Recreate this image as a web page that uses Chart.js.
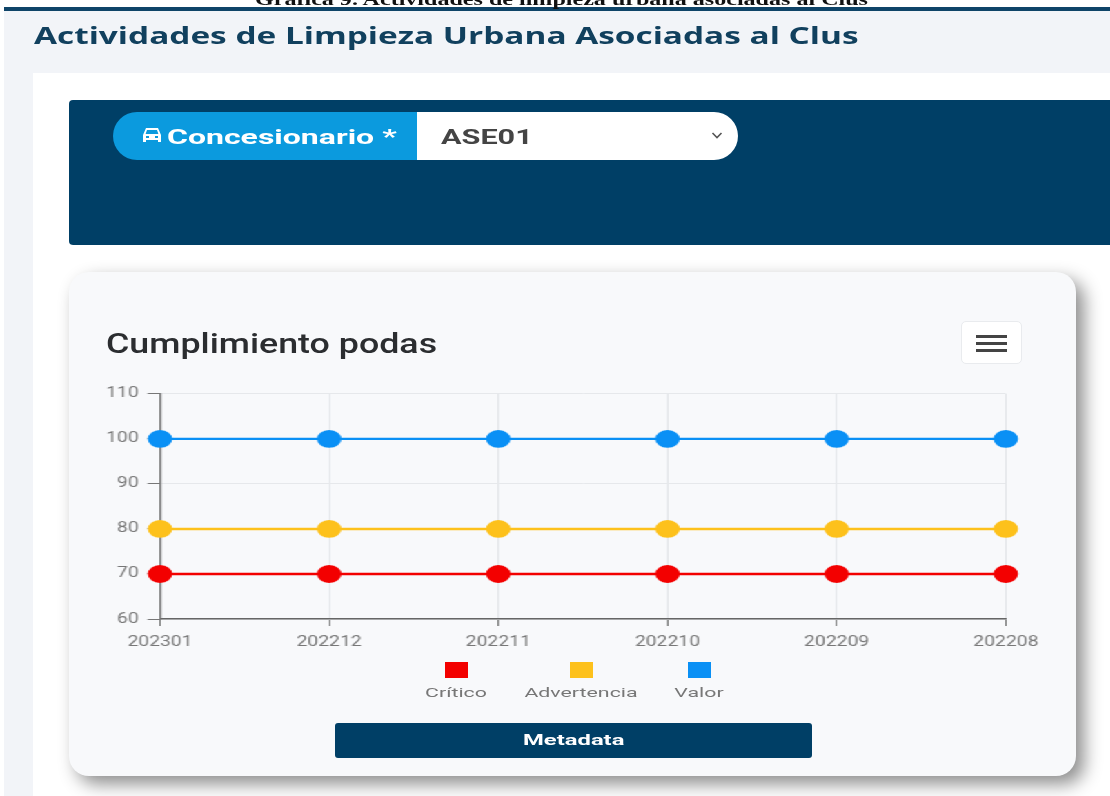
<!DOCTYPE html>
<html lang="es">
<head>
<meta charset="utf-8">
<title>Cumplimiento podas</title>
<script src="https://cdn.jsdelivr.net/npm/chart.js@4"></script>
<style>
  html, body { margin: 0; padding: 0; }
  body { width: 1110px; height: 796px; position: relative; overflow: hidden; background: #fff; font-family: Roboto, sans-serif; }
  #pagina { position: absolute; left: 0; top: 0; width: 1110px; height: 796px; filter: blur(.45px); }
  .box { position: absolute; }
  .txt { position: absolute; white-space: nowrap; transform-origin: 0 0; }
  #chartWrap { position: absolute; left: 100px; top: 379px; width: 688px; height: 280px; transform-origin: 0 0; transform: scaleX(1.38); }
  .leg-box { position: absolute; width: 23px; height: 16px; top: 662px; }
  .leg-txt { position: absolute; top: 684px; font: 400 13.5px Roboto, sans-serif; color: #777; transform: translateX(-50%) scaleX(1.58); white-space: nowrap; }
</style>
</head>
<body>
<div id="pagina">
  <div class="box" style="left:4px;top:11px;width:1106px;height:785px;background:#f2f4f8"></div>
  <div class="box" style="left:4px;top:7px;width:1106px;height:4px;background:#0f4468"></div>
  <div class="txt" style="left:255px;top:-11px;font:700 17.5px 'Liberation Serif',serif;color:#111;transform:scaleX(1.375)">Gráfica 9. Actividades de limpieza urbana asociadas al Clus</div>
  <div class="txt" style="left:34px;top:19px;font:700 23.5px 'Open Sans',sans-serif;color:#11405e;transform:scaleX(1.42)">Actividades de Limpieza Urbana Asociadas al Clus</div>

  <div class="box" style="left:33px;top:73px;width:1077px;height:723px;background:#fff"></div>
  <div class="box" style="left:69px;top:100px;width:1041px;height:145px;background:#003f66;border-radius:4px 0 0 4px"></div>

  <div class="box" style="left:113px;top:112px;width:304px;height:48px;background:#0b9ade;border-radius:24px 0 0 24px"></div>
  <div class="box" style="left:417px;top:112px;width:321px;height:48px;background:#fff;border-radius:0 24px 24px 0"></div>
  <svg class="box" style="left:142px;top:127px" width="20" height="17" viewBox="0 0 20 17">
    <path d="M4 1h12l3 7v7h-3v-2H4v2H1V8z M5 3 3.6 7h12.8L15 3z M4 9v2h3V9z M13 9v2h3V9z" fill="#fff" fill-rule="evenodd"/>
  </svg>
  <div class="txt" style="left:167px;top:125px;font:700 20px Roboto,sans-serif;color:#fff;transform:scaleX(1.6)">Concesionario *</div>
  <div class="txt" style="left:441px;top:125px;font:700 20px Roboto,sans-serif;color:#444;transform:scaleX(1.53)">ASE01</div>
  <svg class="box" style="left:711px;top:131px" width="12" height="9" viewBox="0 0 12 9">
    <path d="M1.5 2 6 6.5 10.5 2" fill="none" stroke="#555" stroke-width="1.6"/>
  </svg>

  <div class="box" style="left:69px;top:272px;width:1007px;height:504px;background:#f8f9fb;border-radius:20px;box-shadow:8px 8px 18px rgba(0,0,0,.45)"></div>
  <div class="txt" style="left:106px;top:328px;font:500 27px Roboto,sans-serif;color:#2b2d30;transform:scaleX(1.325)">Cumplimiento podas</div>

  <div class="box" style="left:961px;top:321px;width:59px;height:41px;background:#fff;border:1px solid #e9ebee;border-radius:5px"></div>
  <div class="box" style="left:976px;top:335px;width:31px;height:2.5px;background:#444"></div>
  <div class="box" style="left:976px;top:342px;width:31px;height:2.5px;background:#444"></div>
  <div class="box" style="left:976px;top:349px;width:31px;height:2.5px;background:#444"></div>

  <div id="chartWrap"><canvas id="graficoPodas" width="688" height="280"></canvas></div>
  <div id="leyenda"></div>

  <div class="box" style="left:335px;top:723px;width:477px;height:35px;background:#003f66;border-radius:3px"></div>
  <div class="txt" style="left:523px;top:732px;font:700 14px Roboto,sans-serif;color:#fff;transform:scaleX(1.7)">Metadata</div>
</div>

<script>
const periodos = ['202301', '202212', '202211', '202210', '202209', '202208'];
const critico = [70, 70, 70, 70, 70, 70];
const advertencia = [80, 80, 80, 80, 80, 80];
const valor = [100, 100, 100, 100, 100, 100];
const nombres = ['Crítico', 'Advertencia', 'Valor'];
const colores = ['#f30000', '#fdc11c', '#0a90f5'];
const ticksY = [60, 70, 80, 90, 100, 110];

const serie = (label, data, color) => ({
  label,
  data,
  borderColor: color,
  backgroundColor: color,
  pointBackgroundColor: color,
  pointBorderColor: color,
  borderWidth: 2.4,
  pointRadius: 7.7,
  pointHoverRadius: 7.7,
  tension: 0,
  fill: false,
  clip: false
});

new Chart(document.getElementById('graficoPodas'), {
  type: 'line',
  data: {
    labels: periodos,
    datasets: [
      serie(nombres[0], critico, colores[0]),
      serie(nombres[1], advertencia, colores[1]),
      serie(nombres[2], valor, colores[2])
    ]
  },
  options: {
    responsive: false,
    animation: false,
    layout: { padding: { top: 10.5, right: 29.5, bottom: 0, left: 0 } },
    plugins: { legend: { display: false }, tooltip: { enabled: false } },
    scales: {
      x: {
        offset: false,
        afterFit: s => { s.height = 40; },
        grid: { color: '#e3e5e8', tickColor: '#777', tickLength: 7 },
        border: { color: '#666', width: 1.4 },
        ticks: { color: '#777', maxRotation: 0, autoSkip: false, padding: 8, font: { family: 'Roboto', size: 14 } }
      },
      y: {
        min: 60,
        max: 110,
        afterFit: s => { s.width = 43.5; },
        afterBuildTicks: s => { s.ticks = ticksY.map(value => ({ value })); },
        grid: { color: '#e6e8eb', tickColor: '#777', tickLength: 9 },
        border: { color: '#777', width: 1.4 },
        ticks: { color: '#777', padding: 6.5, font: { family: 'Roboto', size: 14 } }
      }
    }
  }
});

// leyenda: cuadro arriba, texto abajo, como en la captura
const centros = [456, 581, 699];
const leyenda = document.getElementById('leyenda');
nombres.forEach((n, i) => {
  const cuadro = document.createElement('div');
  cuadro.className = 'leg-box';
  cuadro.style.left = (centros[i] - 11.5) + 'px';
  cuadro.style.background = colores[i];
  const txt = document.createElement('div');
  txt.className = 'leg-txt';
  txt.style.left = centros[i] + 'px';
  txt.textContent = n;
  leyenda.append(cuadro, txt);
});
</script>
</body>
</html>
